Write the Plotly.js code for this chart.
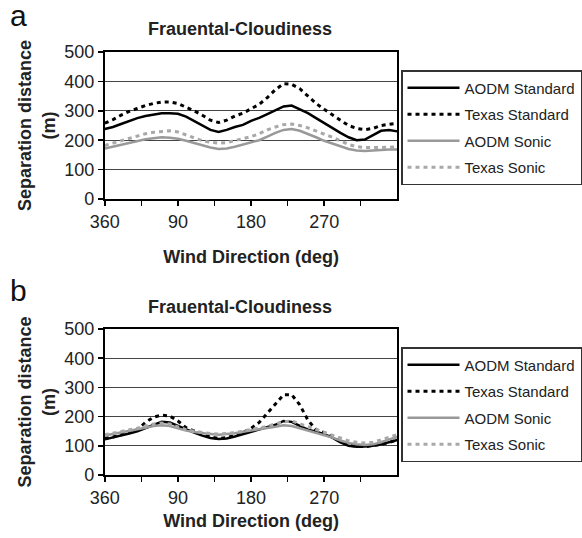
<!DOCTYPE html>
<html><head><meta charset="utf-8">
<script src="https://cdn.plot.ly/plotly-3.0.1.min.js"></script>
<style>html,body{margin:0;padding:0;background:#fff;}#chart{width:582px;height:538px;}</style>
</head><body><div id="chart"></div>
<script>
const direction = [0,10,20,30,40,50,60,70,80,90,100,110,120,130,140,150,160,170,180,190,200,210,220,230,240,250,260,270,280,290,300,310,320,330,340,350,360];
const tickVals = [0,45,90,135,180,225,270,315];
const tickLabels = ['360','','90','','180','','270',''];
const seriesNames = ['AODM Standard','Texas Standard','AODM Sonic','Texas Sonic'];

// Panel a
const aAodmStd = [238,245,255,265,275,282,288,292,292,290,280,265,248,235,228,235,245,252,266,276,289,302,315,318,305,292,275,258,242,225,210,200,202,218,232,235,230];
const aTexasStd = [258,270,285,298,308,318,325,330,330,325,312,300,285,268,260,268,282,292,307,322,345,372,392,390,375,350,325,305,285,268,250,240,236,240,250,253,258];
const aAodmSonic = [172,178,185,192,198,203,207,210,208,205,198,190,182,175,170,172,178,185,192,200,212,225,235,238,232,222,210,198,188,178,170,165,163,165,167,168,168];
const aTexasSonic = [182,190,198,207,215,222,227,230,232,228,218,207,198,193,190,192,198,205,212,222,235,245,253,255,250,242,232,220,210,198,185,178,175,175,175,176,178];

// Panel b
const bAodmStd = [122,128,135,142,150,160,172,182,180,168,155,145,135,127,123,125,132,140,148,155,162,172,185,182,168,155,148,140,128,112,100,97,98,100,105,112,120];
const bTexasStd = [125,130,138,145,155,180,198,205,202,185,162,150,140,130,125,128,135,145,160,180,212,245,275,275,240,188,155,145,130,115,103,98,97,100,105,112,120];
const bAodmSonic = [135,140,145,150,155,162,168,170,168,160,152,147,143,140,138,140,143,148,152,155,160,165,170,168,160,152,145,138,128,118,110,105,103,105,112,122,130];
const bTexasSonic = [138,143,148,153,160,168,175,178,175,165,155,150,145,142,140,142,145,150,155,160,167,175,182,185,175,165,155,145,135,125,117,112,110,112,120,130,138];

const styles = [
  {color:'#000000', width:2.5, dash:'solid'},
  {color:'#000000', width:3, dash:'4px,4px'},
  {color:'#999999', width:2.5, dash:'solid'},
  {color:'#a8a8a8', width:3, dash:'4px,4px'}
];
const FONT = 'Liberation Sans, Arial, sans-serif';

function mk(ys, i, xa, ya, leg){
  return {x: direction, y: ys, type:'scatter', mode:'lines', name: seriesNames[i],
    line: Object.assign({}, styles[i]), xaxis: xa, yaxis: ya, legend: leg,
    legendgroup: leg + i, showlegend: true, hoverinfo:'skip'};
}
const data = [
  mk(aAodmStd,0,'x','y','legend'), mk(aTexasStd,1,'x','y','legend'),
  mk(aAodmSonic,2,'x','y','legend'), mk(aTexasSonic,3,'x','y','legend'),
  mk(bAodmStd,0,'x2','y2','legend2'), mk(bTexasStd,1,'x2','y2','legend2'),
  mk(bAodmSonic,2,'x2','y2','legend2'), mk(bTexasSonic,3,'x2','y2','legend2')
];

const W = 582, H = 538;
const xDom = [105/W, 398/W];
function xax(anchor, titleStd){
  return {domain: xDom, anchor: anchor, range:[0,360], tickvals: tickVals, ticktext: tickLabels,
    ticks:'outside', ticklen:5, tickwidth:1.5, tickcolor:'#000', showline:true, linecolor:'#000', linewidth:2,
    mirror:true, showgrid:false, zeroline:false, tickfont:{family:FONT, size:18, color:'#222'},
    title:{text:'<b>Wind Direction (deg)</b>', font:{family:FONT, size:18, color:'#222'}, standoff: titleStd},
    automargin:false, fixedrange:true};
}
function yax(anchor, dom){
  return {domain: dom, anchor: anchor, range:[0,500], dtick:100, tick0:0,
    ticks:'outside', ticklen:5, tickwidth:1.5, tickcolor:'#000', showline:true, linecolor:'#000', linewidth:2,
    mirror:true, showgrid:true, gridcolor:'#444', gridwidth:1.2, zeroline:false,
    tickfont:{family:FONT, size:18, color:'#222'},
    title:{text:'<b>Separation distance<br>(m)</b>', font:{family:FONT, size:18, color:'#222'}, standoff: 4},
    automargin:false, fixedrange:true};
}
function leg(ytop){
  return {x: 402/W, xanchor:'left', y: 1 - ytop/H, yanchor:'top', bgcolor:'#fff', bordercolor:'#333', borderwidth:1.5,
    font:{family:FONT, size:15, color:'#222'}, tracegroupgap: 4, itemwidth: 52, traceorder:'grouped'};
}

const layout = {
  width: W, height: H, margin:{l:0,r:0,t:0,b:0}, paper_bgcolor:'#fff', plot_bgcolor:'#fff',
  showlegend: true,
  xaxis: xax('y', 20), yaxis: yax('x', [1-199/H, 1-52/H]),
  xaxis2: xax('y2', 8), yaxis2: yax('x2', [1-475/H, 1-329/H]),
  legend: leg(70), legend2: leg(347),
  annotations: [
    {text:'a', x:8/W, y:1-15/H, xref:'paper', yref:'paper', xanchor:'left', yanchor:'middle', showarrow:false, font:{family:FONT, size:30, color:'#111'}},
    {text:'b', x:8/W, y:1-290/H, xref:'paper', yref:'paper', xanchor:'left', yanchor:'middle', showarrow:false, font:{family:FONT, size:30, color:'#111'}},
    {text:'<b>Frauental-Cloudiness</b>', x:240/W, y:1-29/H, xref:'paper', yref:'paper', xanchor:'center', yanchor:'middle', showarrow:false, font:{family:FONT, size:18, color:'#222'}},
    {text:'<b>Frauental-Cloudiness</b>', x:240/W, y:1-307/H, xref:'paper', yref:'paper', xanchor:'center', yanchor:'middle', showarrow:false, font:{family:FONT, size:18, color:'#222'}}
  ]
};
Plotly.newPlot('chart', data, layout, {staticPlot:true, displayModeBar:false});
</script></body></html>
